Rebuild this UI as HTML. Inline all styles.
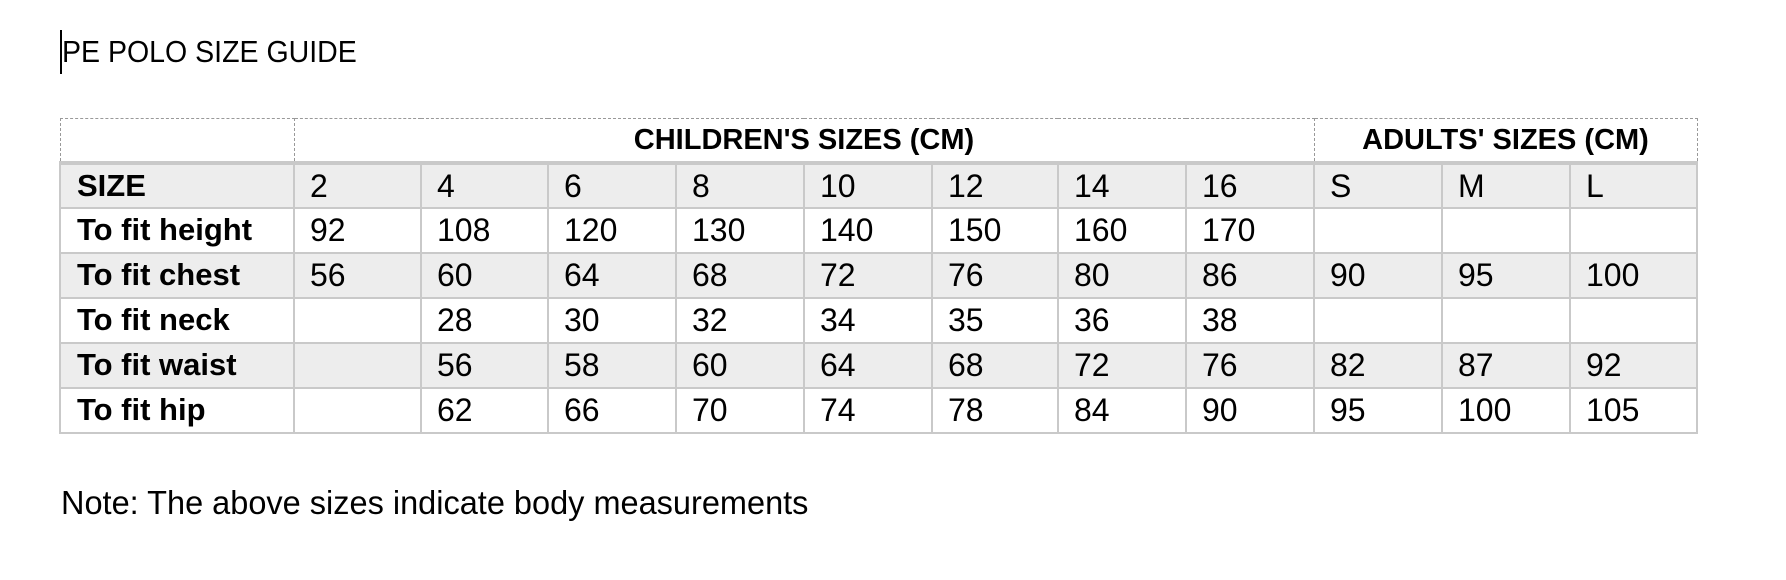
<!DOCTYPE html>
<html><head><meta charset="utf-8"><style>
body{margin:0;width:1786px;height:580px;background:#fff;font-family:"Liberation Sans",sans-serif;color:#000;position:relative;overflow:hidden}
.t{position:absolute;white-space:nowrap}
table{position:absolute;left:59px;top:118px;border-collapse:collapse;table-layout:fixed}
tr{height:45px}
td{border:2px solid #c9c9c9;padding:0 0 0 15px;font-size:32px;line-height:32px;vertical-align:middle;white-space:nowrap;overflow:hidden}
td.l{font-weight:bold;padding-left:16px;font-size:31px}
tr.s td{background:#ededed}
tr.h{height:44px}
tr.h td{border:1px dashed #999;border-bottom:4px solid #c9c9c9;font-weight:bold;text-align:center;padding:0;font-size:29px}
</style></head><body>
<div class="t" style="left:60px;top:30px;width:2px;height:44px;background:#000"></div>
<div class="t" style="left:62px;top:34px;font-size:31px;transform:scaleX(0.92);transform-origin:left">PE POLO SIZE GUIDE</div>
<table>
<colgroup><col style="width:234px"><col style="width:127px"><col style="width:127px"><col style="width:128px"><col style="width:128px"><col style="width:128px"><col style="width:126px"><col style="width:128px"><col style="width:128px"><col style="width:128px"><col style="width:128px"><col style="width:127px"></colgroup>
<tr class="h"><td></td><td colspan="8">CHILDREN'S SIZES (CM)</td><td colspan="3">ADULTS' SIZES (CM)</td></tr>
<tr class="s"><td class="l">SIZE</td><td>2</td><td>4</td><td>6</td><td>8</td><td>10</td><td>12</td><td>14</td><td>16</td><td>S</td><td>M</td><td>L</td></tr>
<tr><td class="l">To fit height</td><td>92</td><td>108</td><td>120</td><td>130</td><td>140</td><td>150</td><td>160</td><td>170</td><td></td><td></td><td></td></tr>
<tr class="s"><td class="l">To fit chest</td><td>56</td><td>60</td><td>64</td><td>68</td><td>72</td><td>76</td><td>80</td><td>86</td><td>90</td><td>95</td><td>100</td></tr>
<tr><td class="l">To fit neck</td><td></td><td>28</td><td>30</td><td>32</td><td>34</td><td>35</td><td>36</td><td>38</td><td></td><td></td><td></td></tr>
<tr class="s"><td class="l">To fit waist</td><td></td><td>56</td><td>58</td><td>60</td><td>64</td><td>68</td><td>72</td><td>76</td><td>82</td><td>87</td><td>92</td></tr>
<tr><td class="l">To fit hip</td><td></td><td>62</td><td>66</td><td>70</td><td>74</td><td>78</td><td>84</td><td>90</td><td>95</td><td>100</td><td>105</td></tr>
</table>
<div class="t" style="left:61px;top:484px;font-size:33px;transform:scaleX(0.985);transform-origin:left">Note: The above sizes indicate body measurements</div>
</body></html>
